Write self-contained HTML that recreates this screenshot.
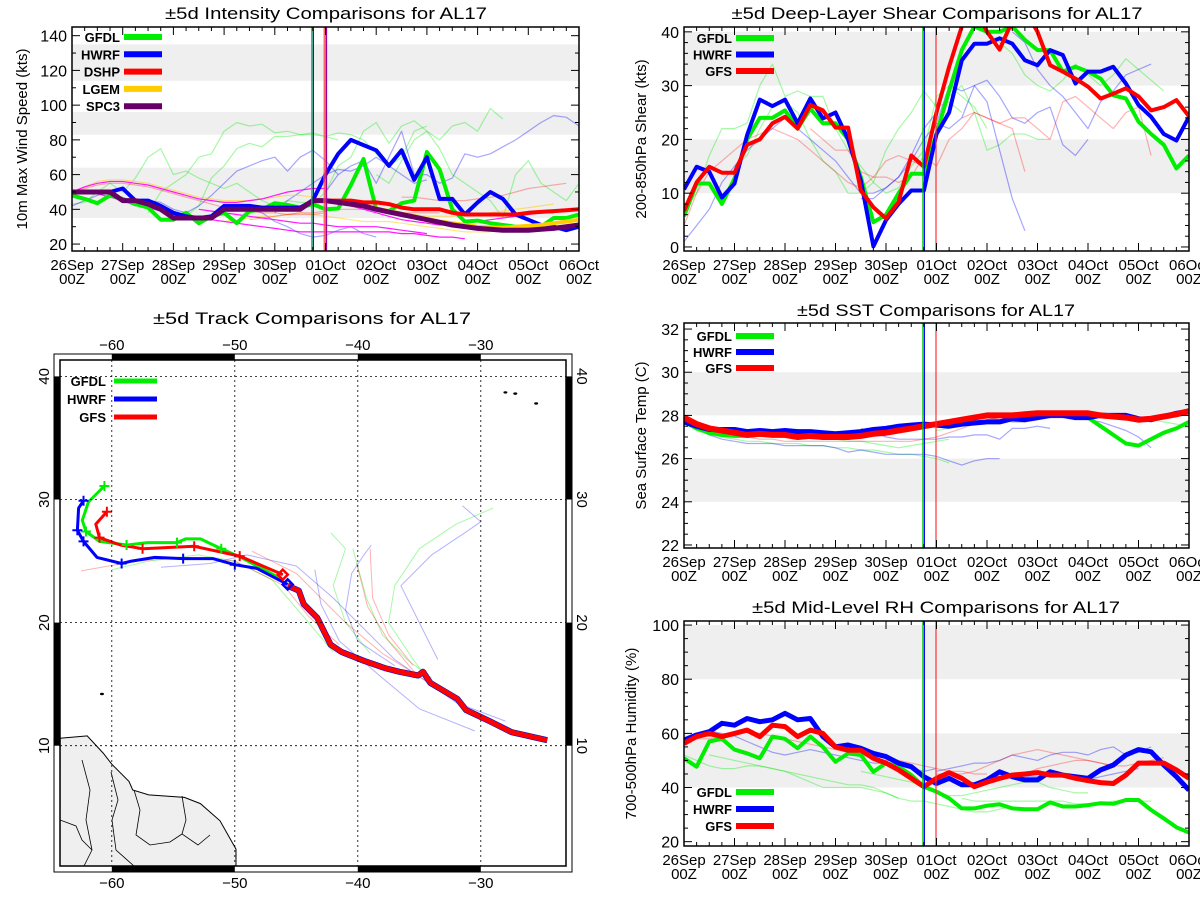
<!DOCTYPE html>
<html><head><meta charset="utf-8"><style>
html,body{margin:0;padding:0;background:#fff;}
svg{display:block;font-family:"Liberation Sans",sans-serif;}
</style></head><body>
<svg id="root" xmlns="http://www.w3.org/2000/svg" width="1200" height="900" viewBox="0 0 1200 900"></svg>
<script>
// ---------------- DATA ----------------
const dayLabels = ["26Sep","27Sep","28Sep","29Sep","30Sep","01Oct","02Oct","03Oct","04Oct","05Oct","06Oct"];
// intensity (kts), 6-hourly from 26Sep00Z, null = missing
const intGFDL = [48,46,43.5,48,46,43,41,34,34,38,32,36,38,32,39,40,43.5,42.5,41,43,40,40.5,54,69,40,39,43.5,45,73,63,40,33,33.5,32,31,30,30,30,35,35,37];
const intHWRF = [50,50,50,50,52,45,45,42,38,36,35,36,42,42,42,41,41,41,41,45,60,72,80,77,74,65,74,57,70,46,46,37,44,50,46,37,34,31,30,28,30];
const intSPC3 = [50,50,50,50,45,45,43,40,35,35,35,35,40,40,40,40,40,40,40,45,45,44,43,42,40,38.5,37,35.5,34,32.5,31,30,29,28.5,28,28,28,28.5,29,30,31];
const intDSHPStart = 19;
const intDSHP = [45,45,45,45,44,44,43,41,40,40,40,38,37,37,37,37,37,38,38.5,39,39.5,40];
const intLGEMStart = 20;
const intLGEM = [45,44,43,42,40.5,39,37.5,36,34.5,33,32,31,30,29.5,29.5,30,30.5,31,32,33,34];
const intFaintGreen = [[0,[43,44,50,55,50,58,70,75,60,62,58,55,52,55,50,45,42,45,44,44]],[6,[38,50,55,60,70,72,85,90,88,89,84,85,83,84,82,80]],[9,[36,42,58,65,75,78,76,82,82,83,83,82,84,83,80,72,65,70,85,88]],[19,[43,50,65,70,85,90,78,88,91,85,80,88,90,85,98,92]],[24,[60,55,68,80,85,75,60,55,50,45,35,60,68,55,50,45,55,80,78,47]]];
const intFaintBlue = [[0,[42,45,48,50,45,42,45,44,40,38,42,48,55,62,65,68,70,62,70,74,68,60]],[20,[50,60,65,68,55,70,85,60,60,55,58,72,70,72,76,80,85,90,94,93,88,85]],[14,[40,38,33,30,26,24,25,28,30,26,24]],[16,[38,45,50,55,60,63,62,65,70,65,60,55,57]]];
const intFaintMagenta = [[0,[50,53,55,56,56,55,54,52,50,48,46,45,44,44,45,46,48,50,51,52,52]],[0,[49,50,49,47,45,43,41,39,37,36,35,34,33,32,31,30,29,28,27,27,27,27,27,27,27,27,26,26,25,24,24,23]],[10,[40,39,38,37,36,35,34,33,32,32,31,30,30,30,30,29,28,27,26]],[20,[45,44,42,40,38,36,34,33,32,31,31,32,33,34,35,36,37,38,38]]];
const intFaintYellow = [[0,[50,53,56,57,57,56,55,53,51,49,47,46,45,45,45,46,47,48,48,47]],[12,[33,34,35,36,36,37,38,37,36,35,34,33,33,33,32,31,30,29,28,27,27,27]],[26,[38,37,36,36,36,37,37,38,39,40,41,42,43]]];
const intFaintPink = [[0,[50,52,54,55,55,54,53,51,49,47,45,43,41,40,39,38,38,37,37,37,38]],[14,[34,35,36,37,38,38,39,40,40,40,40,39,38,38,38,38]],[26,[47,47,46,45,45,45,46,47,48,50,52,53,54,55]]];
const intTicks = [20,40,60,80,100,120,140];
const intBands = [[35,64],[83,96],[114,135]];

// shear (kts)
const shrGFDL = [5.7,11.8,11.8,8,12.7,20,24,24,25.4,22,25.7,23,23,20,13,4.6,6,10,13.6,13.6,21,29,36.6,41,40,40,41,38.5,36.6,36.6,32.6,33.5,32.6,31.3,28.2,27.6,23.3,21,19,14.6,17];
const shrHWRF = [10.7,14.9,14,9.2,11.8,20.8,27.4,26.2,27.4,23,27.6,23.9,25,20,12.4,0.1,5,8,10.5,10.5,21,25,34.7,37.8,37.8,38.8,37.8,34.7,33.8,36.6,35.7,30.4,32.6,32.6,33.5,30.4,26.4,24.2,21,19.8,24.2];
const shrGFS = [6.7,12,14.9,13.8,13.8,19,20,23,24.2,22,26.4,25.4,22.2,22.2,10.5,7.4,5.3,8.4,17,14.9,25,33.5,41,45,40,36.7,42,44,40,33.8,32.6,31.3,29.8,27.6,28.5,29.5,28,25.4,26,27.3,24.3];
const shrFaintGreen = [[0,[7,10,17,22,22,23,30,34,28,29,28,28,22,18,15,12,10,11,15,18,28,30,28,26,22]],[4,[15,17,22,26,27,25,20,16,14,10,10,12,18,22,25,29,26,27,25]],[20,[22,28,30,25,18,19,21,21,20,20]],[24,[40,38,36,32,30,29,31,34,32,30,32,35,33,31,29]]];
const shrFaintBlue = [[0,[1,4,7,12,15,18,20,22,24,22,20,18,16,13,10,10,11,13,17,22,25]],[14,[9,9,11,13,16,20,23,30,29,30,27,18,9,3]],[20,[23,22,24,30,31,28,24,23,25,26,19,17,20]],[26,[40,38,33,30,28,25,22,27,29,32,33,34]]];
const shrFaintRed = [[0,[4,10,14,16,18,20,21,22,21,20,18,16,14,12,11,13,16,17,16,15]],[10,[22,20,18,18,14,13,13,12,13,17,15,20,22,25,24,23,22,14]],[22,[24,25,24,23,24,24,22,20,27,28,26,24,22,25,26,17]]];
const shrTicks = [0,10,20,30,40];
const shrBands = [[10,20],[30,40]];

// SST (C)
const sstGFDL = [27.7,27.4,27.2,27.1,27.05,27.05,27.1,27.1,27.1,27.1,27.05,27.05,27.05,27.05,27.1,27.2,27.25,27.35,27.45,27.5,27.6,27.7,27.8,27.9,28,28,28,28,28.1,28.1,28.1,28.1,27.9,27.5,27.1,26.7,26.6,26.9,27.2,27.4,27.7];
const sstHWRF = [27.7,27.5,27.35,27.35,27.35,27.25,27.3,27.25,27.3,27.25,27.25,27.2,27.15,27.2,27.25,27.35,27.4,27.5,27.55,27.6,27.55,27.5,27.6,27.65,27.7,27.7,27.85,27.8,27.9,28,28,27.9,27.9,28,28,28,27.85,27.8,27.95,28.1,28.2];
const sstGFS = [27.9,27.6,27.4,27.3,27.2,27.1,27.15,27.1,27.1,27,27.05,27,27,27,27.05,27.15,27.2,27.3,27.4,27.5,27.6,27.7,27.8,27.9,28,28,28,28.05,28.1,28.1,28.1,28.1,28.1,28,27.95,27.9,27.8,27.85,27.95,28.05,28.2];
const sstFaintGreen = [[0,[27.7,27.3,27.1,27,26.9,26.8,26.8,26.7,26.7,26.7,26.6,26.6,26.5,26.5,26.4,26.4,26.3,26.2,26.2,26.1,26,25.8]],[10,[26.9,26.9,26.9,26.8,26.8,26.7,26.6,26.5,26.6,26.7,26.8,26.9]],[20,[27.3,27.4,27.5,27.6,27.7,27.8,27.8,27.9,27.9,27.9,28,28,28,27.9,27.9,27.9,27.8,27.8,27.7,27.6,27.4]]];
const sstFaintBlue = [[0,[27.7,27.4,27.1,26.9,26.8,26.7,26.7,26.7,26.6,26.6,26.6,26.6,26.5,26.3,26.4,26.3,26.2,26.2,26.2,26.2,26.1,25.9,25.7,25.9,26,26]],[14,[27.4,27.2,27,26.9,26.9,26.9,26.9,27,27,27.1,27.1,26.9,27.4,27.4,27.5,27.4]],[24,[27.9,27.8,27.7,27.7,27.8,27.9,27.9,27.9,27.8,27.7,27.5,27.3,27,26.5]]];
const sstFaintRed = [[0,[27.9,27.6,27.4,27.2,27.1,27,26.9,26.9,26.8,26.8,26.8,26.8,26.8,26.8,26.8,26.8,26.8,26.8,26.8,26.9,27,27.2,27.4,27.6,27.8,27.9,27.9,28]],[8,[27.1,27,27,27,27,27,27.1,27.1,27.2,27.3,27.4,27.5,27.6,27.7,27.8,27.9,28,28]]];
const sstTicks = [22,24,26,28,30,32];
const sstBands = [[24,26],[28,30]];

// RH (%)
const rhGFDL = [50.8,47.7,57,58,54,52.6,50.8,58.8,58,54.5,58.8,55,49.5,52.6,52,45.8,49,47.7,44.6,40.3,38.5,36,32.3,32.3,33.3,33.8,32.3,32,32,34.5,33,33,33.5,34.2,34,35.4,35.4,31.7,28.6,25.3,23.4];
const rhHWRF = [57.5,59.4,60.6,63.7,63,65.5,64.3,65,67.4,65,65.5,58.8,55,55.7,54.5,52.6,51.4,49,47.7,44,41.5,43.4,41,41,42.8,45.8,44,42.8,42.8,45.8,44.6,44,43.4,46.5,48.3,52,54,53.2,48.3,44,39];
const rhGFS = [56.3,58.8,60,58.8,60,61.2,58.8,63,62.5,58.8,61.2,60,55,53.8,53.8,50.8,49,46.5,43.4,40.3,43.4,45.5,43.4,40.3,42,43.4,44.6,45,45.5,44.6,44.6,43.4,42.5,41.8,41.5,44.6,49,49,49,46.5,43.4];
const rhFaintGreen = [[0,[52,50,48,47,47,48,48,47,46,44,42,40,40,40,40,39,38,36]],[2,[52,51,50,49,48,47,46,45,44,43,42,41,41,40,38,36,35,35,34,33,32,31,31,32,33]],[14,[46,45,44,43,42,40,38,37,37,38,39,40,41,42,42,40,39,38,38]],[22,[36,35,35,35,35,35,35,35,35,34,34,34,35,35,35,35]]];
const rhFaintBlue = [[0,[58,60,61,60,59,57,55,53,52,53,54,53,52,51,50,49,49,48,47,46,47]],[20,[46,47,48,49,49,50,52,51,50,52,53,53,52,54,55,52,53,55]],[26,[44,44,44,45,45,43,43,44,45,46,47]]];
const rhFaintRed = [[0,[57,58,58,59,60,61,60,59,58,57,56,55,54,53,52,51,50,50,49,48,47,46,46,45,45]],[20,[45,45,45,46,48,50,52,53,54,53,52,51,50,49,48]],[24,[43,43,44,45,47,48,49,50,50,49,48,48,49,50,51]]];
const rhTicks = [20,40,60,80,100];
const rhBands = [[40,60],[80,100]];

// track (lon, lat)
const obsLon = [-24.6,-27.5,-29.3,-31.2,-31.9,-34.1,-34.7,-35.1,-36.6,-37.8,-39.5,-41.3,-42.2,-43.3,-44.4,-44.8,-45.7];
const obsLat = [10.45,11.1,12,12.9,13.8,15.1,16,15.7,16,16.3,16.9,17.6,18.2,20.4,21.5,22.6,23];
const gfsLon = [-46.1,-49.6,-53.3,-57.5,-59.3,-61,-61.3,-60.4];
const gfsLat = [23.9,25.4,26.2,26,26.3,26.9,28,29];
const gfdlLon = [-46.3,-49.5,-51.1,-52.8,-54,-54.7,-57.1,-58.8,-61,-62.1,-62.4,-61.9,-60.6];
const gfdlLat = [23.6,25.3,26,26.8,26.8,26.5,26.5,26.3,26.6,27.4,28.3,29.8,31.1];
const hwrfLon = [-45.7,-48.2,-50,-51.8,-54.2,-56.5,-58.4,-59.2,-61.2,-62.3,-62.8,-62.7,-62.3];
const hwrfLat = [23.1,24.4,24.7,25.2,25.2,25.3,25,24.8,25.3,26.6,27.5,29.3,29.9];
const trkFaintGreen = [[[-60,24.3],[-57,25],[-53,25.5],[-50,25],[-47,23.5],[-44,20],[-42,17.6]],[[-29,29.3],[-32,28],[-35,26],[-37,23],[-37.5,20],[-35.5,17],[-34,15]],[[-40.4,26],[-39.3,22],[-38,19],[-36,17],[-34,15.5]],[[-42.2,27.3],[-41,26],[-42,23],[-41,20],[-39,17.5]]];
const trkFaintBlue = [[[-56,24.5],[-52,24.8],[-49,25.5],[-45,24.6],[-42,22],[-40,20],[-37,17],[-32,13.5],[-28,12]],[[-31.5,29.5],[-30,28.2],[-31,27.5],[-34,25.5],[-36.5,23],[-35,20],[-33.5,17]],[[-38.9,26.3],[-39.5,25.5],[-40.5,24],[-41,21],[-40,18.5],[-37,16.5]],[[-43.5,24.3],[-43,21.5],[-41.5,18.5],[-38,15.5],[-35,13],[-30.5,11.2]]];
const trkFaintRed = [[[-62.5,24.2],[-58,25],[-54,25.3],[-50,25],[-46,23],[-44,20.5],[-41.5,18.2]],[[-39,26],[-38.8,22],[-37.5,19],[-35.5,16.5]],[[-40.1,24.8],[-39.2,21.3],[-37.5,18.5],[-35,15.5]],[[-48.6,25.8],[-45,24],[-41,20],[-38,17.5],[-34,15]]];
const lonTicks = [-60,-50,-40,-30];
const latTicks = [10,20,30,40];
// South America coast (lon, lat) for land shading
const landLon = [-64.2,-62,-60.7,-60,-58.6,-58.3,-57,-54.1,-52.8,-51.2,-49.9,-49.9];
const landLat = [10.6,10.8,9.4,8.5,7.1,6.4,6,5.8,5.3,3.9,1.6,0];

// ---------------- DRAWING ----------------
const NS = "http://www.w3.org/2000/svg";
const root = document.getElementById('root');
function mk(tag, attrs, parent) {
  const el = document.createElementNS(NS, tag);
  for (const k in attrs) el.setAttribute(k, attrs[k]);
  (parent || root).appendChild(el);
  return el;
}
function txt(str, attrs, parent) {
  const t = mk('text', attrs, parent);
  t.textContent = str;
  return t;
}

function panel(cfg) {
  const g = mk('g', {});
  
  
  const X = d => cfg.x0 + (d / 10) * (cfg.x1 - cfg.x0);
  const Y = v => cfg.y1 - (v - cfg.vmin) / (cfg.vmax - cfg.vmin) * (cfg.y1 - cfg.y0);
  const clipId = cfg.name + '-clip';
  const cp = mk('clipPath', {id: clipId}, g);
  mk('rect', {x: cfg.x0, y: cfg.y0, width: cfg.x1 - cfg.x0, height: cfg.y1 - cfg.y0}, cp);
  // bands
  cfg.bands.forEach(b => {
    const r = mk('rect', {x: cfg.x0, y: Y(b[1]), width: cfg.x1 - cfg.x0, height: Y(b[0]) - Y(b[1]), fill: '#efefef'}, g);
    
    
  });
  const plot = mk('g', {'clip-path': 'url(#' + clipId + ')'}, g);
  function line(start, vals, color, w, op, nm) {
    let d = '';
    let pen = false;
    vals.forEach((v, i) => {
      if (v === null) { pen = false; return; }
      d += (pen ? 'L' : 'M') + X((start + i) * 0.25).toFixed(1) + ' ' + Y(v).toFixed(1);
      pen = true;
    });
    const p = mk('path', {d: d, fill: 'none', stroke: color, 'stroke-width': w, 'stroke-opacity': op, 'stroke-linejoin': 'round'}, plot);
    
    
  }
  cfg.faint.forEach(f => f.data.forEach(s => line(s[0], s[1], f.color, f.w || 1.2, f.op || 0.35, 'faint-' + f.label + '-line')));
  cfg.series.forEach(s => line(s.start || 0, s.vals, s.color, s.w, 1, s.label.toLowerCase() + '-line'));
  // init lines
  cfg.vlines.forEach(v => {
    if (v.band) mk('rect', {x: X(v.d) - 2, y: cfg.y0, width: 4, height: cfg.y1 - cfg.y0, fill: v.band}, g);
    const l = mk('line', {x1: X(v.d), x2: X(v.d), y1: cfg.y0, y2: cfg.y1, stroke: v.c, 'stroke-width': 1.2}, g);
    
    
  });
  // frame
  const fr = mk('rect', {x: cfg.x0, y: cfg.y0, width: cfg.x1 - cfg.x0, height: cfg.y1 - cfg.y0, fill: 'none', stroke: '#000', 'stroke-width': 1.5}, g);
  
  
  // x ticks
  for (let k = 0; k <= 40; k++) {
    const x = X(k * 0.25);
    const len = k % 4 === 0 ? 8 : 4;
    mk('line', {x1: x, x2: x, y1: cfg.y1, y2: cfg.y1 - len, stroke: '#000', 'stroke-width': 1}, g);
    mk('line', {x1: x, x2: x, y1: cfg.y0, y2: cfg.y0 + len, stroke: '#000', 'stroke-width': 1}, g);
  }
  dayLabels.forEach((lab, i) => {
    const t1 = txt(lab, {x: X(i), y: cfg.y1 + 19, 'text-anchor': 'middle', 'font-size': 15}, g);
    
    
    const t2 = txt('00Z', {x: X(i), y: cfg.y1 + 33, 'text-anchor': 'middle', 'font-size': 15}, g);
    
    
  });
  // y ticks
  const step = cfg.ticks[1] - cfg.ticks[0];
  const minor = step / cfg.minorN;
  for (let v = cfg.ticks[0]; v <= cfg.ticks[cfg.ticks.length - 1] + 1e-6; v += minor) {
    const isMaj = Math.abs(((v - cfg.ticks[0]) / step) - Math.round((v - cfg.ticks[0]) / step)) < 1e-6;
    const len = isMaj ? 8 : 4;
    mk('line', {x1: cfg.x0, x2: cfg.x0 + len, y1: Y(v), y2: Y(v), stroke: '#000', 'stroke-width': 1}, g);
    mk('line', {x1: cfg.x1, x2: cfg.x1 - len, y1: Y(v), y2: Y(v), stroke: '#000', 'stroke-width': 1}, g);
  }
  cfg.ticks.forEach(v => {
    const t = txt(String(v), {x: cfg.x0 - 5, y: Y(v) + 6, 'text-anchor': 'end', 'font-size': 16}, g);
    
    
  });
  const yt = txt(cfg.ytitle, {x: 0, y: 0, 'text-anchor': 'middle', 'font-size': 15, transform: 'translate(' + cfg.ytx + ',' + ((cfg.y0 + cfg.y1) / 2) + ') rotate(-90)'}, g);
  
  
  const tt = txt(cfg.title, {x: cfg.tcx, y: cfg.ty, 'text-anchor': 'middle', 'font-size': 17, textLength: cfg.tw, lengthAdjust: 'spacingAndGlyphs'}, g);
  
  
  // legend
  cfg.series.filter(s => !s.nolegend).forEach((s, i) => {
    const ly = cfg.legY + i * cfg.legDy;
    const lt = txt(s.label, {x: cfg.legX, y: ly + 5, 'text-anchor': 'end', 'font-size': 13, 'font-weight': 'bold'}, g);
    
    
    const ll = mk('line', {x1: cfg.legX + 4, x2: cfg.legX + 42, y1: ly, y2: ly, stroke: s.color, 'stroke-width': 6}, g);
    
    
  });
}

const GREEN = '#00ee00', BLUE = '#0000ff', RED = '#ff0000';
const vl = [{d: 4.73, c: '#00cc00'}, {d: 4.76, c: '#0000ff'}, {d: 4.99, c: '#ff3333'}];

panel({name: 'intensity-chart', x0: 72, x1: 579, y0: 27, y1: 251, vmin: 16, vmax: 145, ticks: intTicks, minorN: 2, bands: intBands,
  title: '±5d Intensity Comparisons for AL17', tcx: 326, ty: 19, tw: 322, ytitle: '10m Max Wind Speed (kts)', ytx: 27,
  legX: 120, legY: 37, legDy: 17.3,
  vlines: [{d: 4.73, c: '#00cc00'}, {d: 4.76, c: '#0000ff'}, {d: 4.99, c: '#ff3333', band: 'rgba(255,120,120,0.5)'}, {d: 5.02, c: '#990099'}],
  faint: [{label: 'gfdl', color: GREEN, data: intFaintGreen}, {label: 'hwrf', color: BLUE, data: intFaintBlue},
          {label: 'lgem', color: '#ffcc00', data: intFaintYellow, op: 0.5}, {label: 'dshp', color: RED, data: intFaintPink, op: 0.3},
          {label: 'spc3', color: '#ff00ff', data: intFaintMagenta, op: 0.9, w: 1.2}],
  series: [{label: 'GFDL', vals: intGFDL, color: GREEN, w: 4}, {label: 'HWRF', vals: intHWRF, color: BLUE, w: 4},
           {label: 'DSHP', vals: intDSHP, start: intDSHPStart, color: RED, w: 4}, {label: 'LGEM', vals: intLGEM, start: intLGEMStart, color: '#ffcc00', w: 4},
           {label: 'SPC3', vals: intSPC3, color: '#660066', w: 5}]});

panel({name: 'shear-chart', x0: 684, x1: 1189, y0: 27, y1: 251, vmin: -0.75, vmax: 40.9, ticks: shrTicks, minorN: 5, bands: shrBands,
  title: '±5d Deep-Layer Shear Comparisons for AL17', tcx: 937, ty: 19, tw: 411, ytitle: '200-850hPa Shear (kts)', ytx: 646,
  legX: 732, legY: 38, legDy: 16.5, vlines: vl,
  faint: [{label: 'gfdl', color: GREEN, data: shrFaintGreen}, {label: 'hwrf', color: BLUE, data: shrFaintBlue}, {label: 'gfs', color: RED, data: shrFaintRed, op: 0.3}],
  series: [{label: 'GFDL', vals: shrGFDL, color: GREEN, w: 4}, {label: 'HWRF', vals: shrHWRF, color: BLUE, w: 4}, {label: 'GFS', vals: shrGFS, color: RED, w: 4}]});

panel({name: 'sst-chart', x0: 684, x1: 1189, y0: 323, y1: 548, vmin: 21.86, vmax: 32.28, ticks: sstTicks, minorN: 4, bands: sstBands,
  title: '±5d SST Comparisons for AL17', tcx: 936, ty: 316, tw: 278, ytitle: 'Sea Surface Temp (C)', ytx: 646,
  legX: 732, legY: 336, legDy: 16, vlines: vl,
  faint: [{label: 'gfdl', color: GREEN, data: sstFaintGreen}, {label: 'hwrf', color: BLUE, data: sstFaintBlue}, {label: 'gfs', color: RED, data: sstFaintRed, op: 0.3}],
  series: [{label: 'GFDL', vals: sstGFDL, color: GREEN, w: 4}, {label: 'HWRF', vals: sstHWRF, color: BLUE, w: 5}, {label: 'GFS', vals: sstGFS, color: RED, w: 6}]});

panel({name: 'rh-chart', x0: 684, x1: 1189, y0: 621, y1: 846, vmin: 18.4, vmax: 101.5, ticks: rhTicks, minorN: 4, bands: rhBands,
  title: '±5d Mid-Level RH Comparisons for AL17', tcx: 936, ty: 613, tw: 368, ytitle: '700-500hPa Humidity (%)', ytx: 636,
  legX: 732, legY: 792, legDy: 17, vlines: vl,
  faint: [{label: 'gfdl', color: GREEN, data: rhFaintGreen}, {label: 'hwrf', color: BLUE, data: rhFaintBlue}, {label: 'gfs', color: RED, data: rhFaintRed, op: 0.3}],
  series: [{label: 'GFDL', vals: rhGFDL, color: GREEN, w: 4}, {label: 'HWRF', vals: rhHWRF, color: BLUE, w: 5}, {label: 'GFS', vals: rhGFS, color: RED, w: 5}]});

// ---------------- TRACK MAP ----------------
(function () {
  const g = mk('g', {});
  
  
  const LX = lon => 111.8 + (lon + 60) * 12.3;
  const LY = lat => 745.7 - (lat - 10) * 12.31;
  const ix0 = 60, ix1 = 566, iy0 = 360, iy1 = 866;
  const cp = mk('clipPath', {id: 'map-clip'}, g);
  mk('rect', {x: ix0, y: iy0, width: ix1 - ix0, height: iy1 - iy0}, cp);
  const plot = mk('g', {'clip-path': 'url(#map-clip)'}, g);
  // land
  let d = 'M' + ix0 + ' ' + iy1;
  landLon.forEach((lo, i) => { d += 'L' + LX(lo).toFixed(1) + ' ' + LY(landLat[i]).toFixed(1); });
  d += 'L' + LX(-49.9).toFixed(1) + ' ' + iy1 + 'Z';
  const land = mk('path', {d: d, fill: '#efefef', stroke: '#000', 'stroke-width': 1}, plot);
  
  
  ['M82 760 L90 790 L86 820 L92 850 L84 866', 'M111 772 L118 800 L112 820 L116 850 L134 866', 'M134 790 L140 810 L136 835 L150 845 L170 842 L182 834', 'M182 796 L186 820 L182 834 L198 845 L210 835', 'M60 820 L76 826 L82 840 L92 850'].forEach(b => {
    const bl = mk('path', {d: b, fill: 'none', stroke: '#000', 'stroke-width': 0.8}, plot);
    
    
  });
  // islands
  [[-60.8,14.2],[-28,38.7],[-27.2,38.6],[-25.5,37.8]].forEach(p => {
    const e = mk('ellipse', {cx: LX(p[0]), cy: LY(p[1]), rx: 2, ry: 1.2, fill: '#000'}, plot);
    
    
  });
  // grid
  lonTicks.forEach(lo => {
    const l = mk('line', {x1: LX(lo), x2: LX(lo), y1: iy0, y2: iy1, stroke: '#000', 'stroke-width': 0.8, 'stroke-dasharray': '2,3'}, g);
    
    
  });
  latTicks.forEach(la => {
    const l = mk('line', {x1: ix0, x2: ix1, y1: LY(la), y2: LY(la), stroke: '#000', 'stroke-width': 0.8, 'stroke-dasharray': '2,3'}, g);
    
    
  });
  function trk(pts, color, w, op, nm) {
    const dd = pts.map((p, i) => (i ? 'L' : 'M') + LX(p[0]).toFixed(1) + ' ' + LY(p[1]).toFixed(1)).join('');
    const p = mk('path', {d: dd, fill: 'none', stroke: color, 'stroke-width': w, 'stroke-opacity': op, 'stroke-linejoin': 'round'}, plot);
    
    
  }
  trkFaintGreen.forEach(t => trk(t, GREEN, 1, 0.35, 'faint-gfdl-track'));
  trkFaintBlue.forEach(t => trk(t, BLUE, 1, 0.3, 'faint-hwrf-track'));
  trkFaintRed.forEach(t => trk(t, RED, 1, 0.3, 'faint-gfs-track'));
  const zip = (a, b) => a.map((v, i) => [v, b[i]]);
  trk(zip(obsLon, obsLat), GREEN, 6, 1, 'gfdl-past-track');
  trk(zip(obsLon, obsLat), BLUE, 6, 1, 'hwrf-past-track');
  trk(zip(obsLon, obsLat), RED, 5, 1, 'gfs-past-track');
  trk(zip(gfdlLon, gfdlLat), GREEN, 3, 1, 'gfdl-forecast-track');
  trk(zip(hwrfLon, hwrfLat), BLUE, 3, 1, 'hwrf-forecast-track');
  trk(zip(gfsLon, gfsLat), RED, 3, 1, 'gfs-forecast-track');
  function plus(lo, la, c) {
    const x = LX(lo), y = LY(la);
    const p = mk('path', {d: 'M' + (x - 5) + ' ' + y + 'H' + (x + 5) + 'M' + x + ' ' + (y - 5) + 'V' + (y + 5), stroke: c, 'stroke-width': 2}, plot);
    
    
  }
  [2, 5, 7, 9, 12].forEach(i => plus(gfdlLon[i], gfdlLat[i], GREEN));
  [2, 4, 7, 9, 10, 12].forEach(i => plus(hwrfLon[i], hwrfLat[i], BLUE));
  [1, 2, 3, 5, 7].forEach(i => plus(gfsLon[i], gfsLat[i], RED));
  [[hwrfLon[0], hwrfLat[0], BLUE], [gfsLon[0], gfsLat[0], RED]].forEach(p => {
    const x = LX(p[0]), y = LY(p[1]);
    const dm = mk('path', {d: 'M' + x + ' ' + (y - 5) + 'L' + (x + 5) + ' ' + y + 'L' + x + ' ' + (y + 5) + 'L' + (x - 5) + ' ' + y + 'Z', fill: 'none', stroke: p[2], 'stroke-width': 2.5}, plot);
    
    
  });
  // frame
  mk('rect', {x: 54, y: 354, width: 518, height: 518, fill: 'none', stroke: '#000', 'stroke-width': 1}, g);
  const inner = mk('rect', {x: ix0, y: iy0, width: ix1 - ix0, height: iy1 - iy0, fill: 'none', stroke: '#000', 'stroke-width': 1.5}, g);
  
  
  [[-60, -50], [-40, -30]].forEach(r => {
    mk('rect', {x: LX(r[0]), y: 354, width: LX(r[1]) - LX(r[0]), height: 6, fill: '#000'}, g);
    mk('rect', {x: LX(r[0]), y: 866, width: LX(r[1]) - LX(r[0]), height: 6, fill: '#000'}, g);
  });
  [[40, 30], [20, 10]].forEach(r => {
    mk('rect', {x: 54, y: LY(r[0]), width: 6, height: LY(r[1]) - LY(r[0]), fill: '#000'}, g);
    mk('rect', {x: 566, y: LY(r[0]), width: 6, height: LY(r[1]) - LY(r[0]), fill: '#000'}, g);
  });
  lonTicks.forEach(lo => {
    const a = txt('\u2212' + Math.abs(lo), {x: LX(lo), y: 350, 'text-anchor': 'middle', 'font-size': 15}, g);
    
    
    const b = txt('\u2212' + Math.abs(lo), {x: LX(lo), y: 888, 'text-anchor': 'middle', 'font-size': 15}, g);
    
    
  });
  latTicks.forEach(la => {
    const a = txt(String(la), {x: 0, y: 0, 'text-anchor': 'middle', 'font-size': 15, transform: 'translate(49,' + LY(la) + ') rotate(-90)'}, g);
    
    
    const b = txt(String(la), {x: 0, y: 0, 'text-anchor': 'middle', 'font-size': 15, transform: 'translate(577,' + LY(la) + ') rotate(90)'}, g);
    
    
  });
  const tt = txt('±5d Track Comparisons for AL17', {x: 312, y: 324, 'text-anchor': 'middle', 'font-size': 17, textLength: 318, lengthAdjust: 'spacingAndGlyphs'}, g);
  
  
  [['GFDL', GREEN, 381], ['HWRF', BLUE, 399], ['GFS', RED, 417]].forEach(l => {
    const lt = txt(l[0], {x: 106, y: l[2] + 5, 'text-anchor': 'end', 'font-size': 13, 'font-weight': 'bold'}, g);
    
    
    const ll = mk('line', {x1: 114, x2: 157, y1: l[2], y2: l[2], stroke: l[1], 'stroke-width': 5}, g);
    
    
  });
})();
</script>
</body></html>
